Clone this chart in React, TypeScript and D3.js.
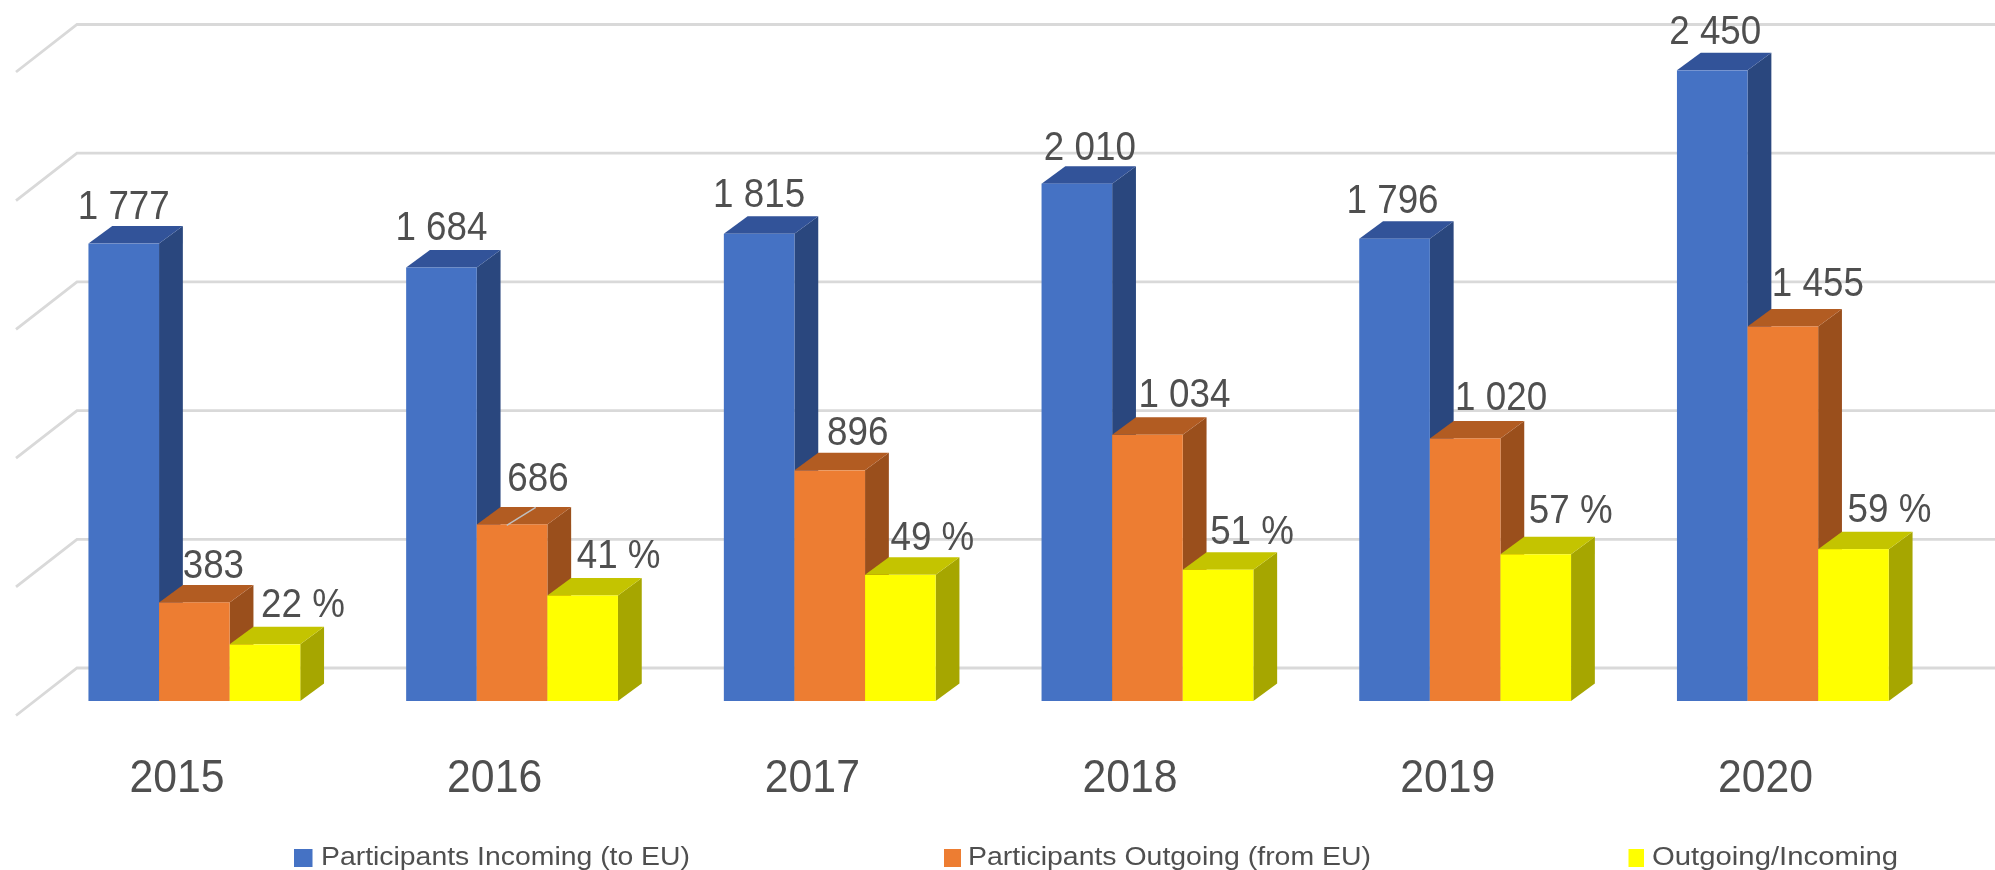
import React from "react";
import * as d3 from "d3";

const years = ["2015", "2016", "2017", "2018", "2019", "2020"];
const incoming = [1777, 1684, 1815, 2010, 1796, 2450];
const outgoing = [383, 686, 896, 1034, 1020, 1455];
const ratioPct = [22, 41, 49, 51, 57, 59];
const gridTicks = [0, 500, 1000, 1500, 2000, 2500];
const legendLabels = ["Participants Incoming (to EU)", "Participants Outgoing (from EU)", "Outgoing/Incoming"];

const faces = [
  { front: "#4472C4", top: "#325399", side: "#2A477E" },
  { front: "#ED7D31", top: "#B25B22", side: "#9A4F1C" },
  { front: "#FFFF00", top: "#C4C400", side: "#A6A600" },
];
// per-label offsets (x from bar centre, y above bar top), matching the hand-placed labels
const labelDx = [
  [0, 0, 0, 13, -2, 3],
  [19, 26, 28, 37, 36, 35],
  [38, 36, 32, 34, 35, 36],
];
const labelDy = [
  [25, 28, 27, 24, 26, 26],
  [24, 33, 25, 28, 28, 30],
  [27, 27, 25, 26, 31, 27],
];
const legendLayout = [
  { sq: 294, sw: 18.5, tx: 321, tw: 369 },
  { sq: 944, sw: 17, tx: 968, tw: 403 },
  { sq: 1628.5, sw: 15.5, tx: 1652, tw: 246 },
];

const W = 1995, H = 870;
const depthX = 23.8, depthY = 17.5;
const floorDX = 61, backOffset = 33, floorDY = 47.5;

const x0 = d3.scaleBand<string>().domain(years).range([35.5, 1941.7]).paddingInner(1 / 3).paddingOuter(1 / 6);
const x1 = d3.scaleBand<number>().domain([0, 1, 2]).range([0, x0.bandwidth()]);
const y = d3.scaleLinear().domain([0, 2500]).range([701, 57.5]);
const yPct = d3.scaleLinear().domain([0, 250]).range([701, 57.5]);
const fmt = d3.formatLocale({ thousands: " ", decimal: ".", grouping: [3], currency: ["", ""] }).format(",");

const seriesList = [
  { values: incoming, scale: y, label: (v: number) => fmt(v) },
  { values: outgoing, scale: y, label: (v: number) => fmt(v) },
  { values: ratioPct, scale: yPct, label: (v: number) => `${v} %` },
];
const poly = (pts: number[][]) => d3.line()(pts as [number, number][]) + "Z";
const FONT = "'Liberation Sans', Arial, sans-serif";
const TEXT = "#505050";

export default function App() {
  const w = x1.bandwidth();
  const leaderX = (x0("2016") as number) + (x1(1) as number);
  const leaderY = y(686);
  return (
    <svg width={W} height={H} viewBox={`0 0 ${W} ${H}`} style={{ position: "absolute", left: 0, top: 0, background: "#fff", display: "block" }}>
      <defs>
        <filter id="soft" x="-2%" y="-2%" width="104%" height="104%">
          <feGaussianBlur stdDeviation="0.6" />
        </filter>
      </defs>
      <g filter="url(#soft)">
        <g fill="none" stroke="#D9D9D9" strokeWidth={2.8}>
          {gridTicks.map((t) => {
            const by = y(t) - backOffset;
            return <path key={t} d={d3.line()([[77 - floorDX, by + floorDY], [77, by], [W, by]]) as string} />;
          })}
        </g>
        {years.map((yr, i) => (
          <g key={yr}>
            {seriesList.map((s, k) => {
              const l = (x0(yr) as number) + (x1(k) as number);
              const r = l + w;
              const t = s.scale(s.values[i]);
              const b = y(0);
              const f = faces[k];
              return (
                <g key={k}>
                  <path fill={f.side} d={poly([[r, t], [r + depthX, t - depthY], [r + depthX, b - depthY], [r, b]])} />
                  <path fill={f.top} d={poly([[l, t], [l + depthX, t - depthY], [r + depthX, t - depthY], [r, t]])} />
                  <rect x={l} y={t} width={w} height={b - t} fill={f.front} />
                </g>
              );
            })}
          </g>
        ))}
        <path d={d3.line()([[leaderX + 30, leaderY + 1], [leaderX + 59, leaderY - 17]]) as string} stroke="#BFBFBF" strokeWidth={1.5} fill="none" />
        <g fontFamily={FONT} fill={TEXT} textAnchor="middle" fontSize={40}>
          {years.map((yr, i) =>
            seriesList.map((s, k) => {
              const cx = (x0(yr) as number) + (x1(k) as number) + w / 2 + labelDx[k][i];
              return (
                <text key={`${yr}-${k}`} transform={`translate(${cx},${s.scale(s.values[i]) - labelDy[k][i]}) scale(0.92,1)`}>
                  {s.label(s.values[i])}
                </text>
              );
            })
          )}
        </g>
        <g fontFamily={FONT} fill={TEXT} textAnchor="middle" fontSize={46}>
          {years.map((yr) => (
            <text key={yr} transform={`translate(${(x0(yr) as number) + 88.5},792) scale(0.93,1)`}>{yr}</text>
          ))}
        </g>
        <g fontFamily={FONT} fill={TEXT} fontSize={26}>
          {legendLabels.map((lab, k) => (
            <g key={lab}>
              <rect x={legendLayout[k].sq} y={849} width={legendLayout[k].sw} height={18} fill={faces[k].front} />
              <text x={legendLayout[k].tx} y={865} textLength={legendLayout[k].tw} lengthAdjust="spacingAndGlyphs">{lab}</text>
            </g>
          ))}
        </g>
      </g>
    </svg>
  );
}
